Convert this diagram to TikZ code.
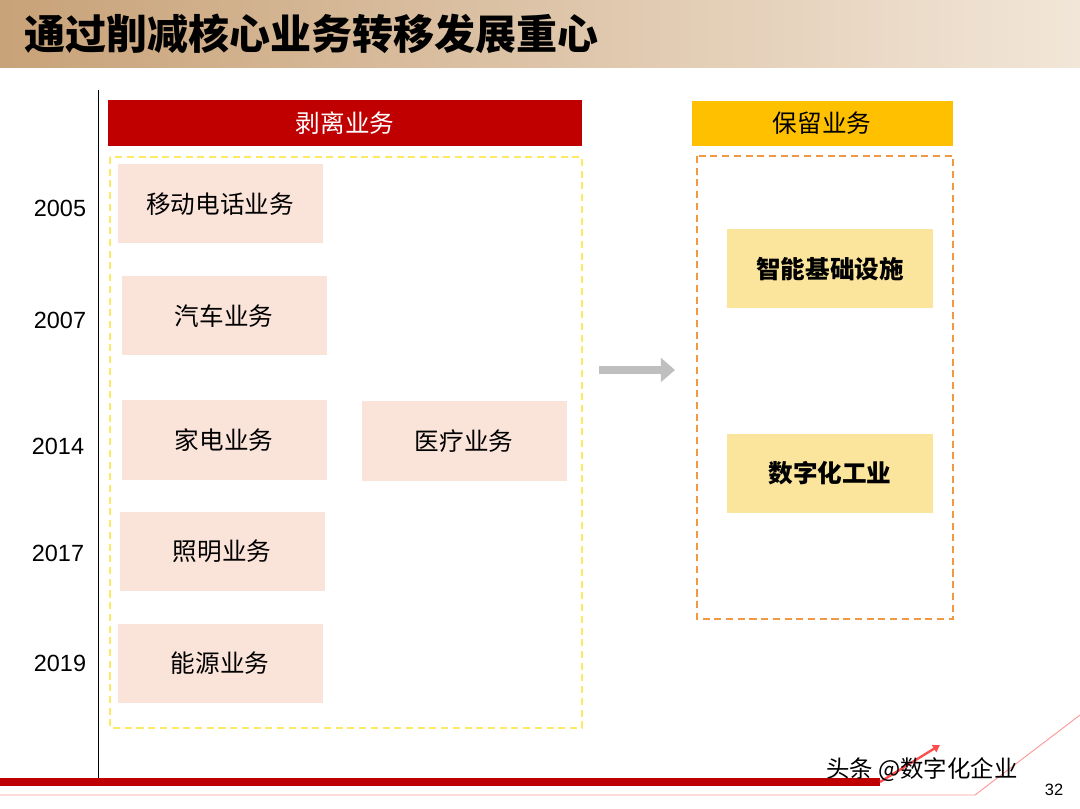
\documentclass[tikz,border=0pt]{standalone}
\usepackage{fontspec}
\setmainfont{Liberation Sans}
\newfontfamily\cjk{Noto Sans CJK SC}
\usetikzlibrary{arrows.meta}
\definecolor{redbar}{HTML}{C00000}
\definecolor{goldbar}{HTML}{FFC000}
\definecolor{pinkbox}{HTML}{FAE3D9}
\definecolor{yelbox}{HTML}{FBE49C}
\tikzset{
	cut/.style={fill=pinkbox, minimum width=61.5mm, minimum height=23.7mm, font=\cjk\fontsize{21}{24}\selectfont},
	keep/.style={fill=yelbox, minimum width=61.8mm, minimum height=23.7mm, font=\cjk\bfseries\fontsize{21}{24}\selectfont},
	year/.style={font=\fontsize{20}{24}\selectfont},
	head/.style={text=white, font=\cjk\fontsize{21}{24}\selectfont, inner sep=0pt},
	frame/.style={line width=1.8pt, dash pattern=on 6pt off 4pt}
}
\begin{document}
\begin{tikzpicture}[x=0.3mm,y=-0.3mm]
		\useasboundingbox (0,0) rectangle (1080,809);
		\fill[white] (0,0) rectangle (1080,809);
		%Titel
		\shade[left color={rgb,255:red,200;green,162;blue,120}, right color={rgb,255:red,242;green,230;blue,216}] (0,0) rectangle (1080,68);
		\node[anchor=west, font=\cjk\bfseries\fontsize{35}{40}\selectfont] (title) at (20,34) {通过削减核心业务转移发展重心};
		%Zeitachse
		\draw[thick] (98,90) -- (98,780);
		\node[year] (y1) at (60,208) {2005};
		\node[year] (y2) at (60,320) {2007};
		\node[year] (y3) at (58,446) {2014};
		\node[year] (y4) at (58,553) {2017};
		\node[year] (y5) at (60,663) {2019};
		%Abgespalten
		\fill[redbar] (108,100) rectangle (582,146);
		\node[head] (cuthead) at (345,123) {剥离业务};
		\draw[frame, yellow!80!orange!60] (110,157) rectangle (582,728);
		\node[cut] (mobile) at (220,204) {移动电话业务};
		\node[cut] (auto) at (224,316) {汽车业务};
		\node[cut] (home) at (224,440) {家电业务};
		\node[cut] (med) at (464,441) {医疗业务};
		\node[cut] (light) at (222,551) {照明业务};
		\node[cut] (energy) at (220,663) {能源业务};
		%Pfeil
		\draw[gray!50, line width=7pt, -{Triangle[length=12pt,width=20pt]}] (599,370) -- (675,370);
		%Behalten
		\fill[goldbar] (692,101) rectangle (953,146);
		\node[head, text=black] (keephead) at (822,123) {保留业务};
		\draw[frame, orange!70!brown!80] (697,156) rectangle (953,619);
		\node[keep] (infra) at (830,269) {智能基础设施};
		\node[keep] (digi) at (830,473) {数字化工业};
		%Fusszeile
		\fill[red!75!black] (0,778) rectangle (880,786);
		\draw[red!40, thick] (0,795) -- (975,795) -- (1080,715);
		\draw[red!70, line width=2pt, -{Triangle[length=6pt,width=7pt]}] (880,782) -- (940,745);
		\node[font=\cjk\fontsize{20}{22}\selectfont, anchor=west] (mark) at (822,770) {头条 @数字化企业};
		\node[font=\fontsize{14}{16}\selectfont] (page) at (1054,790) {32};
\end{tikzpicture}
\end{document}
